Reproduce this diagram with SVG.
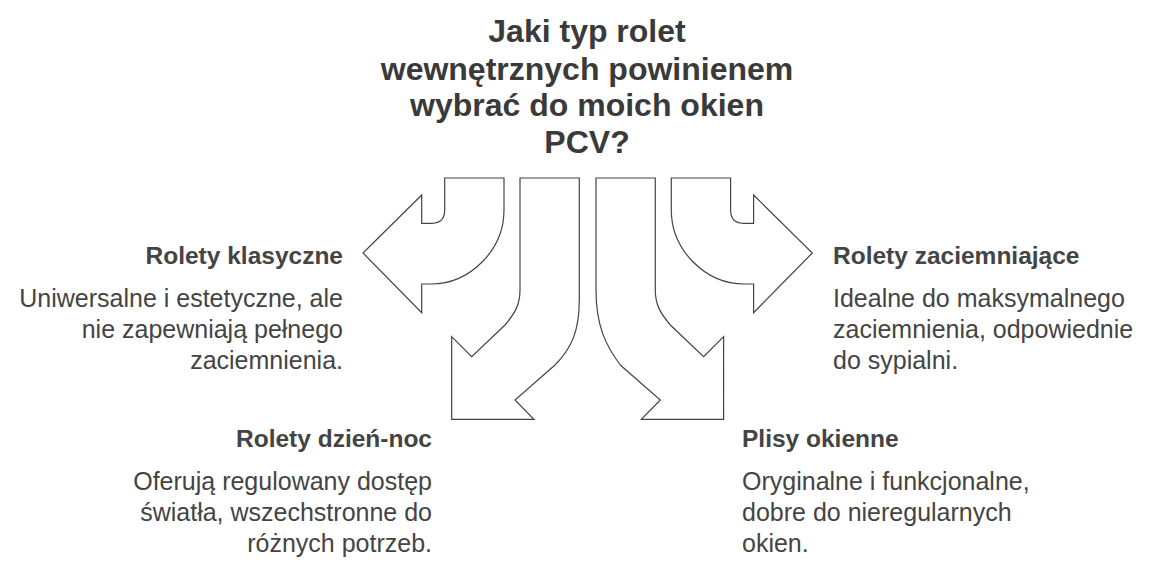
<svg xmlns="http://www.w3.org/2000/svg" width="1173" height="576" viewBox="0 0 1173 576">
<style>
.a{fill:#fff;stroke:#444;stroke-width:1.2}
text{font-family:"Liberation Sans",Arial,sans-serif;fill:#444}
.t{font-size:32px;font-weight:bold;text-anchor:middle;fill:#3a3a3a}
.h{font-size:24.5px;font-weight:bold}
.d{font-size:25px}
.r{text-anchor:end}
</style>
<rect width="1173" height="576" fill="#fff"/>
<g id="connectors">
<path class="a" d="M444.7,178 L504,178 L504,210 C504,250 470,284 431,284 L421.7,284 L421.7,312.7 L363,253 L421.7,195 L421.7,223.3 L432,223.3 Q444.7,223 444.7,210 Z"/>
<path class="a" transform="translate(1175.3,0) scale(-1,1)" d="M444.7,178 L504,178 L504,210 C504,250 470,284 431,284 L421.7,284 L421.7,312.7 L363,253 L421.7,195 L421.7,223.3 L432,223.3 Q444.7,223 444.7,210 Z"/>
<path class="a" d="M520,178 L579.3,178 L579.3,300 C579.3,330 572,348 555,365 L515,400 L534,419.3 L451.7,419.3 L451.7,336.7 L471.7,356.7 L505,325 C515,313 520,305 520,290 Z"/>
<path class="a" transform="translate(1175.3,0) scale(-1,1)" d="M520,178 L579.3,178 L579.3,290 C579.3,325 570,345 555,365 L515,400 L534,419.3 L451.7,419.3 L451.7,336.7 L471.7,356.7 L505,325 C515,313 520,305 520,290 Z"/>
</g>
<g id="title">
<text class="t" x="587" y="42">Jaki typ rolet</text>
<text class="t" x="587" y="80">wewnętrznych powinienem</text>
<text class="t" x="587" y="116">wybrać do moich okien</text>
<text class="t" x="587" y="153">PCV?</text>
</g>
<g id="n1">
<text class="h r" x="343" y="264">Rolety klasyczne</text>
<text class="d r" x="343" y="307">Uniwersalne i estetyczne, ale</text>
<text class="d r" x="343" y="338">nie zapewniają pełnego</text>
<text class="d r" x="343" y="369">zaciemnienia.</text>
</g>
<g id="n2">
<text class="h" x="833" y="264">Rolety zaciemniające</text>
<text class="d" x="833" y="307">Idealne do maksymalnego</text>
<text class="d" x="833" y="338">zaciemnienia, odpowiednie</text>
<text class="d" x="833" y="369">do sypialni.</text>
</g>
<g id="n3">
<text class="h r" x="432" y="447">Rolety dzień-noc</text>
<text class="d r" x="432" y="490">Oferują regulowany dostęp</text>
<text class="d r" x="432" y="521">światła, wszechstronne do</text>
<text class="d r" x="432" y="552">różnych potrzeb.</text>
</g>
<g id="n4">
<text class="h" x="742" y="447">Plisy okienne</text>
<text class="d" x="742" y="490">Oryginalne i funkcjonalne,</text>
<text class="d" x="742" y="521">dobre do nieregularnych</text>
<text class="d" x="742" y="552">okien.</text>
</g>
</svg>
